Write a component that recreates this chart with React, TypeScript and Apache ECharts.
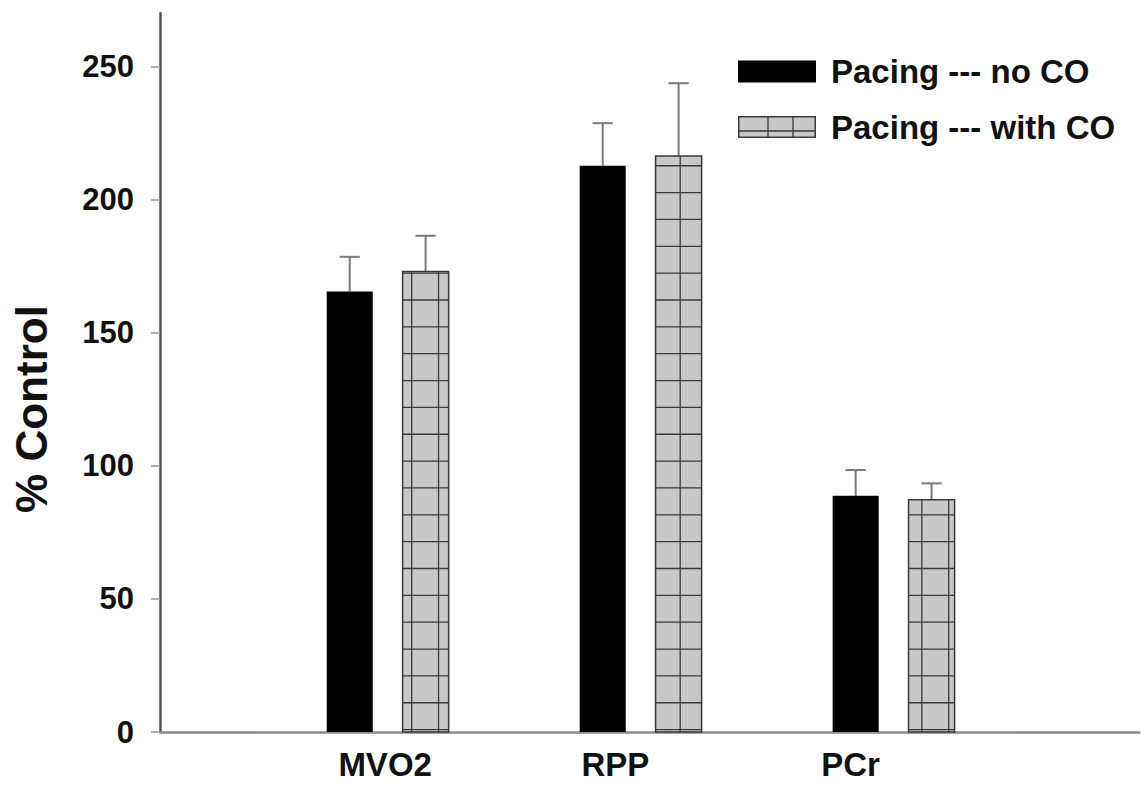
import React, { useEffect, useRef } from 'react';
import * as echarts from 'echarts';

// Measurements (% of control)
const CATEGORIES = ['MVO2', 'RPP', 'PCr'];
const SERIES_NAMES = ['Pacing --- no CO', 'Pacing --- with CO'];
const NO_CO = [165.5, 212.7, 88.7];
const NO_CO_ERR = [13, 16, 9.7];
const WITH_CO = [173, 216.4, 87.2];
const WITH_CO_ERR = [13.4, 27.3, 6.2];
const Y_TICKS = [0, 50, 100, 150, 200, 250];

// Horizontal layout on the value x-axis
const GROUP_X = [1, 2, 3];
const LABEL_X = [0.99, 1.9, 2.83];
const X_MIN = 0.1;
const X_MAX = 3.97;
const BAR_W = 0.182;
const BAR_OFFSET = 0.15;
const CAP_W = 0.08;

// Styling
const FONT = "'Liberation Sans', Arial, Helvetica, sans-serif";
const ERR_COLOR = '#7a7a7a';
const HATCH_FILL = '#c8c8c8';
const HATCH_LINE = '#3a3a3a';
const HATCH_STEP = 26.85;
const HATCH_X0 = 411.7;
const HATCH_Y0 = 300;

const hatchIconSvg =
  '<svg xmlns="http://www.w3.org/2000/svg" width="78" height="22" viewBox="0 0 78 22">' +
  '<rect x="0.75" y="0.75" width="76.5" height="20.5" fill="' + HATCH_FILL + '" stroke="' + HATCH_LINE + '" stroke-width="1.5"/>' +
  '<line x1="30" y1="0" x2="30" y2="22" stroke="' + HATCH_LINE + '" stroke-width="1.3"/>' +
  '<line x1="55" y1="0" x2="55" y2="22" stroke="' + HATCH_LINE + '" stroke-width="1.3"/>' +
  '<line x1="0" y1="15" x2="78" y2="15" stroke="' + HATCH_LINE + '" stroke-width="1.3"/>' +
  '</svg>';
const HATCH_ICON = 'image://data:image/svg+xml;charset=utf-8,' + encodeURIComponent(hatchIconSvg);

function makeBarRenderer(offset: number, hatched: boolean) {
  return (_params: any, api: any) => {
    const cx = api.value(0) + offset;
    const v = api.value(1);
    const err = api.value(2);
    const [l, b] = api.coord([cx - BAR_W / 2, 0]);
    const [r, t] = api.coord([cx + BAR_W / 2, v]);
    const [mx, et] = api.coord([cx, v + err]);
    const [cl] = api.coord([cx - CAP_W / 2, 0]);
    const [cr] = api.coord([cx + CAP_W / 2, 0]);
    const rectShape = { x: l, y: t, width: r - l, height: b - t };
    const children: any[] = [
      { type: 'line', shape: { x1: mx, y1: t, x2: mx, y2: et }, style: { stroke: ERR_COLOR, lineWidth: 2 } },
      { type: 'line', shape: { x1: cl, y1: et, x2: cr, y2: et }, style: { stroke: ERR_COLOR, lineWidth: 2 } },
    ];
    if (!hatched) {
      children.push({ type: 'rect', shape: rectShape, style: { fill: '#000' } });
    } else {
      children.push({ type: 'rect', shape: rectShape, style: { fill: HATCH_FILL } });
      let k = Math.ceil((l - HATCH_X0) / HATCH_STEP);
      for (let x = HATCH_X0 + k * HATCH_STEP; x < r - 1; x += HATCH_STEP) {
        if (x > l + 1) {
          children.push({ type: 'line', shape: { x1: x, y1: t, x2: x, y2: b }, style: { stroke: HATCH_LINE, lineWidth: 1.3 } });
        }
      }
      k = Math.ceil((t - HATCH_Y0) / HATCH_STEP);
      for (let y = HATCH_Y0 + k * HATCH_STEP; y < b - 1; y += HATCH_STEP) {
        if (y > t + 1) {
          children.push({ type: 'line', shape: { x1: l, y1: y, x2: r, y2: y }, style: { stroke: HATCH_LINE, lineWidth: 1.3 } });
        }
      }
      children.push({ type: 'rect', shape: rectShape, style: { fill: 'none', stroke: HATCH_LINE, lineWidth: 1.5 } });
    }
    return { type: 'group', children };
  };
}

export default function App() {
  const ref = useRef<HTMLDivElement>(null);

  useEffect(() => {
    if (!ref.current) return;
    const chart = echarts.init(ref.current, null, { renderer: 'svg' });

    const option: any = {
      animation: false,
      backgroundColor: '#ffffff',
      grid: { left: 160, right: 2, top: 13.2, bottom: 53, containLabel: false },
      xAxis: {
        type: 'value',
        min: X_MIN,
        max: X_MAX,
        splitLine: { show: false },
        axisLine: { show: true, onZero: false, lineStyle: { color: '#8c8c8c', width: 2.5 } },
        axisTick: { show: false },
        axisLabel: {
          customValues: LABEL_X,
          margin: 16,
          color: '#111',
          fontFamily: FONT,
          fontWeight: 'bold',
          fontSize: 33,
          formatter: (val: number) => {
            const i = LABEL_X.findIndex((p) => Math.abs(p - val) < 1e-6);
            return i >= 0 ? CATEGORIES[i] : '';
          },
        },
      },
      yAxis: {
        type: 'value',
        min: 0,
        max: 270,
        splitLine: { show: false },
        axisLine: { show: true, lineStyle: { color: '#555', width: 2.5 } },
        axisTick: { show: true, length: 9, customValues: Y_TICKS, lineStyle: { color: '#999', width: 1.5 } },
        axisLabel: {
          customValues: Y_TICKS,
          margin: 26,
          color: '#111',
          fontFamily: FONT,
          fontWeight: 'bold',
          fontSize: 31,
        },
      },
      legend: {
        orient: 'vertical',
        left: 733,
        top: 50,
        itemWidth: 78,
        itemHeight: 22,
        itemGap: 22.5,
        selectedMode: false,
        textStyle: { color: '#111', fontFamily: FONT, fontWeight: 'bold', fontSize: 33, padding: [0, 0, 0, 10] },
        data: [
          { name: SERIES_NAMES[0], icon: 'rect' },
          { name: SERIES_NAMES[1], icon: HATCH_ICON },
        ],
      },
      graphic: [
        {
          type: 'text',
          x: 31,
          y: 409,
          rotation: Math.PI / 2,
          style: {
            text: '% Control',
            fill: '#111',
            font: `bold 44px ${FONT}`,
            align: 'center',
            verticalAlign: 'middle',
          },
        },
      ],
      series: [
        {
          name: SERIES_NAMES[0],
          type: 'custom',
          itemStyle: { color: '#000' },
          renderItem: makeBarRenderer(-BAR_OFFSET, false),
          encode: { x: 0, y: 1 },
          data: GROUP_X.map((x, i) => [x, NO_CO[i], NO_CO_ERR[i]]),
        },
        {
          name: SERIES_NAMES[1],
          type: 'custom',
          itemStyle: { color: HATCH_FILL },
          renderItem: makeBarRenderer(BAR_OFFSET, true),
          encode: { x: 0, y: 1 },
          data: GROUP_X.map((x, i) => [x, WITH_CO[i], WITH_CO_ERR[i]]),
        },
      ],
    };

    chart.setOption(option);
    return () => chart.dispose();
  }, []);

  return (
    <div
      ref={ref}
      style={{ position: 'absolute', left: 0, top: 0, width: 1141, height: 785, background: '#fff' }}
    />
  );
}
